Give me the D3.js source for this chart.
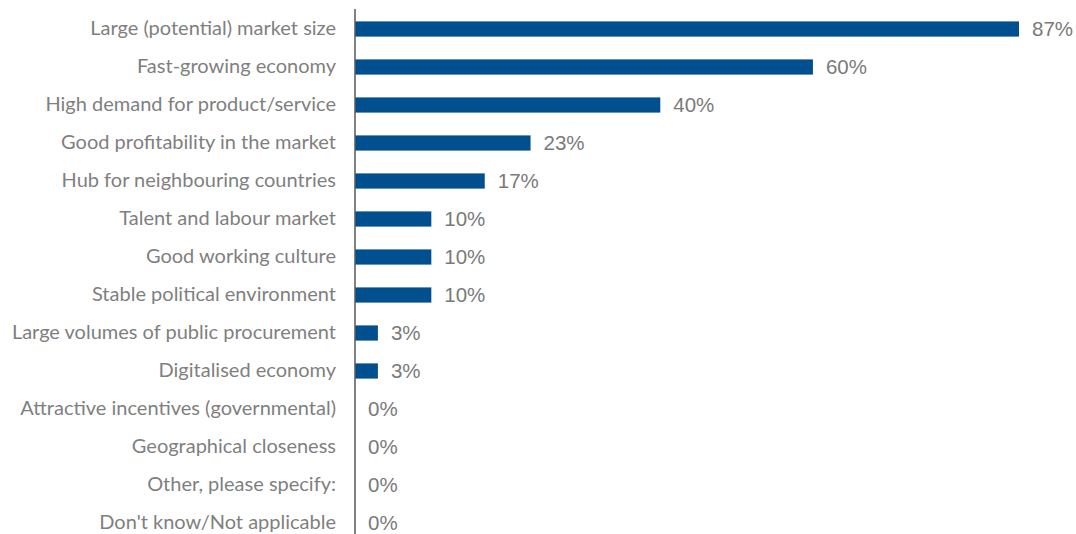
<!DOCTYPE html>
<html>
<head>
<meta charset="utf-8">
<script src="https://cdn.jsdelivr.net/npm/d3@7"></script>
<style>
  html, body { margin: 0; padding: 0; background: #ffffff; }
  svg { display: block; }
</style>
</head>
<body>
<svg id="chart" width="1076" height="534"></svg>
<script>
// Reasons for choosing the market (share of respondents, %)
const categories = [
  "Large (potential) market size",
  "Fast-growing economy",
  "High demand for product/service",
  "Good profitability in the market",
  "Hub for neighbouring countries",
  "Talent and labour market",
  "Good working culture",
  "Stable political environment",
  "Large volumes of public procurement",
  "Digitalised economy",
  "Attractive incentives (governmental)",
  "Geographical closeness",
  "Other, please specify:",
  "Don't know/Not applicable"
];
const values = [87, 60, 40, 23, 17, 10, 10, 10, 3, 3, 0, 0, 0, 0];

const svg = d3.select("#chart");
const axisX = 355;

const x = d3.scaleLinear().domain([0, 87]).range([axisX, 1019]);
const y = d3.scaleBand().domain(categories).range([10, 542]).paddingInner(0.6).paddingOuter(0.3);

// bars
svg.append("g").selectAll("rect")
  .data(categories)
  .join("rect")
  .attr("x", axisX)
  .attr("y", (d) => y(d))
  .attr("width", (d, i) => x(values[i]) - axisX)
  .attr("height", y.bandwidth())
  .attr("fill", "#00508f");

// category axis on the left
const yAxis = d3.axisLeft(y).tickSize(0).tickPadding(19);
const gy = svg.append("g").attr("transform", `translate(${axisX},0)`).call(yAxis);
gy.select(".domain").remove();
gy.selectAll("text")
  .attr("fill", "#7f7f7f")
  .style("font-family", "Lato, 'Open Sans', sans-serif")
  .style("font-size", "20px");

svg.append("line")
  .attr("x1", axisX).attr("x2", axisX)
  .attr("y1", 9).attr("y2", 534)
  .attr("stroke", "#595959")
  .attr("stroke-width", 1.5);

// value labels
svg.append("g").selectAll("text")
  .data(categories)
  .join("text")
  .attr("x", (d, i) => x(values[i]) + 13)
  .attr("y", (d) => y(d) + y.bandwidth() / 2)
  .attr("dy", "0.36em")
  .attr("fill", "#7a7a7a")
  .style("font-family", "'Liberation Sans', Arial, sans-serif")
  .style("font-size", "20.5px")
  .text((d, i) => values[i] + "%");
</script>
</body>
</html>
